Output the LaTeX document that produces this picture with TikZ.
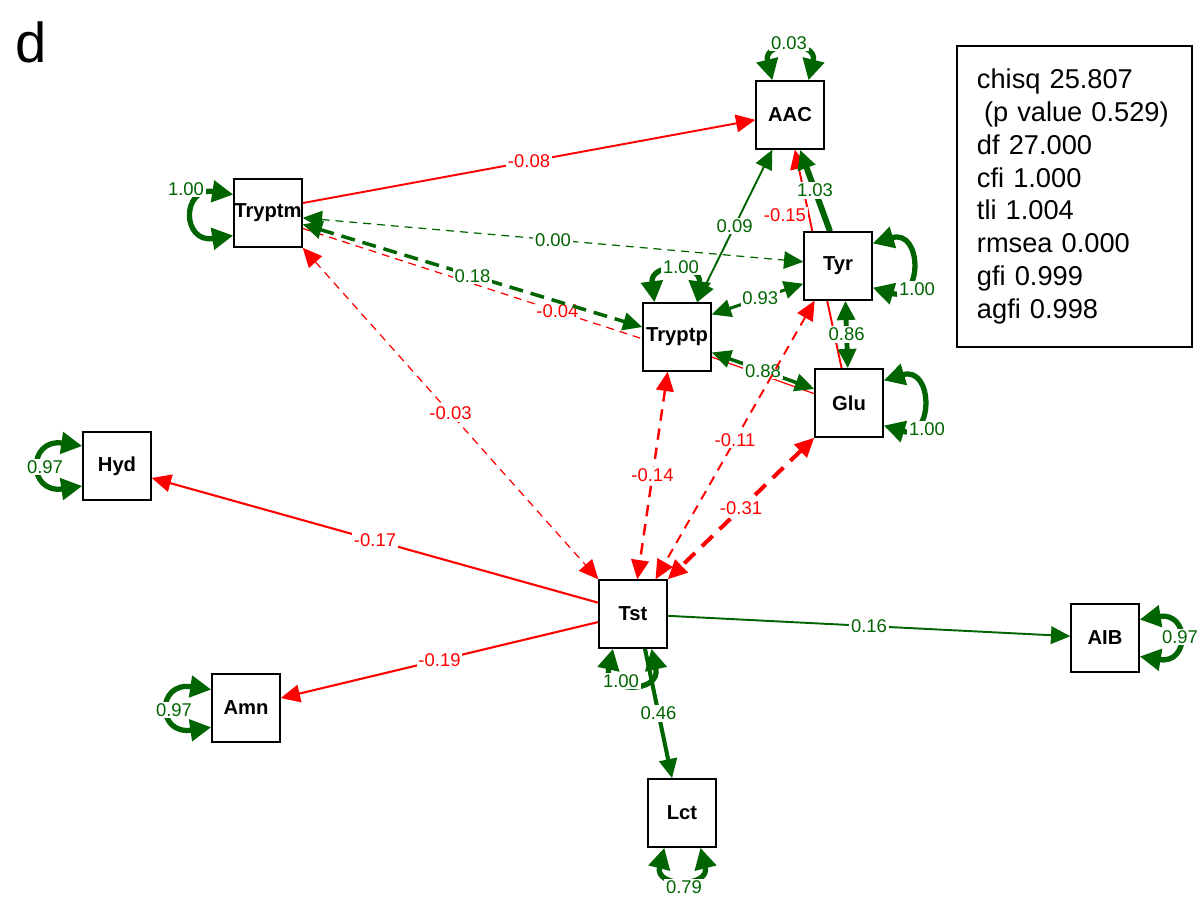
\documentclass[tikz,border=0pt]{standalone}
\usepackage{fontspec}
\setmainfont{Liberation Sans}
\usetikzlibrary{arrows.meta, positioning, calc, backgrounds}
\definecolor{semgreen}{RGB}{0,100,0}

\begin{document}
\begin{tikzpicture}[x=0.02cm, y=-0.02cm, >={Triangle[length=11pt, width=10pt]},
        var_box/.style={draw, line width=0.8pt, fill=white, minimum size=1.36cm, inner sep=0pt, font=\fontsize{11.5}{13}\selectfont\bfseries},
        edge_label/.style={fill=white, inner sep=1pt, font=\fontsize{10.5}{12}\selectfont},
        var_label/.style={edge_label, text=semgreen},
        resid/.style={{Triangle[length=12pt, width=12pt]}-{Triangle[length=12pt, width=12pt]}, semgreen, line width=3pt}]

        \useasboundingbox (0,0) rectangle (1202,907);

        % Panel letter
        \node[font=\fontsize{32}{36}\selectfont, anchor=base] (panel_label) at (31,62) {d};

        % Observed variables
        \node[var_box] (aac) at (790,115) {AAC};
        \node[var_box] (tryptm) at (268,213) {Tryptm};
        \node[var_box] (tyr) at (838,266) {Tyr};
        \node[var_box] (tryptp) at (677,337) {Tryptp};
        \node[var_box] (glu) at (849,403) {Glu};
        \node[var_box] (hyd) at (117,466) {Hyd};
        \node[var_box] (tst) at (633,614) {Tst};
        \node[var_box] (aib) at (1105,638) {AIB};
        \node[var_box] (amn) at (246,708) {Amn};
        \node[var_box] (lct) at (682,813) {Lct};

        % Fit measures
        \node[draw, line width=1.1pt, anchor=north west, minimum width=4.7cm, minimum height=6.02cm,
            text width=3.9cm, inner xsep=0.4cm, align=left, font=\fontsize{15.5}{18.7}\selectfont] (fit_box) at (956,45)
            {chisq 25.807\\\hspace*{4pt}(p value 0.529)\\df 27.000\\cfi 1.000\\tli 1.004\\rmsea 0.000\\gfi 0.999\\agfi 0.998};

        \begin{scope}[on background layer]
            % Regressions
            \draw[->, red, line width=1.1pt] (tryptm.16) -- node[edge_label] {-0.08} (aac.-172);
            \draw[->, red, line width=1.1pt] (glu.102) -- node[edge_label, pos=0.7, xshift=-0.48cm] {-0.15} (aac.-82);
            \draw[->, semgreen, line width=3.4pt] (tyr.103) -- node[edge_label] {1.03} (aac.-74);
            \draw[->, red, line width=1.2pt] (tst.162) -- node[edge_label] {-0.17} (hyd.-19);
            \draw[->, red, line width=1.2pt] (tst.-167) -- node[edge_label] {-0.19} (amn.16);
            \draw[->, semgreen, line width=1.1pt] (tst.-3) -- node[edge_label] {0.16} (aib.177);
            \draw[->, semgreen, line width=2.3pt] (tst.-71) -- node[edge_label] {0.46} (lct.106);

            % Covariances
            \draw[red, dash pattern=on 4.5pt off 3.4pt, line width=0.7pt] (tryptm.-24) -- node[edge_label, pos=0.75] {-0.04} (tryptp.-177);
            \draw[<->, semgreen, dash pattern=on 4.5pt off 3.4pt, line width=0.7pt] (tryptm.-8) -- node[edge_label] {0.00} (tyr.173);
            \draw[<->, semgreen, dash pattern=on 8pt off 4.5pt, line width=2pt] (tryptm.-18) -- node[edge_label] {0.18} (tryptp.164);
            \draw[<->, red, dash pattern=on 4.5pt off 3.4pt, line width=0.7pt] (tryptm.-45) -- node[edge_label] {-0.03} (tst.135);
            \draw[<->, semgreen, line width=1.1pt] (tryptp.60) -- node[edge_label] {0.09} (aac.-117);
            \draw[<->, semgreen, line width=1.7pt] (tryptp.33) -- node[edge_label, pos=0.53] {0.93} (tyr.-153);
            \draw[red, line width=0.7pt] (tryptp.-30) -- (glu.165);
            \draw[<->, semgreen, line width=2pt] (tryptp.-24) -- node[edge_label] {0.88} (glu.158);
            \draw[<->, semgreen, line width=2.8pt] (tyr.-78) -- node[edge_label] {0.86} (glu.92);
            \draw[<->, red, dash pattern=on 6.5pt off 4.5pt, line width=1.4pt] (tryptp.-105) -- node[edge_label] {-0.14} (tst.83);
            \draw[<->, red, dash pattern=on 5.5pt off 4pt, line width=1.1pt] (tyr.-124) -- node[edge_label] {-0.11} (tst.57);
            \draw[<->, red, dash pattern=on 8.5pt off 5.5pt, line width=2.3pt] (glu.-135) -- node[edge_label] {-0.31} (tst.45);

            % Residual variances
            \draw[resid] (aac.117) .. controls +(-10,-40) and +(10,-40) .. (aac.62);
            \node[var_label] (aac_var) at (789,43) {0.03};
            \draw[resid] (tryptm.152) .. controls +(-52,-8) and +(-52,8) .. (tryptm.-147);
            \node[var_label] (tryptm_var) at (186,189) {1.00};
            \draw[resid] (tyr.33) .. controls +(50,-15) and +(50,15) .. (tyr.-32);
            \node[var_label] (tyr_var) at (917,289) {1.00};
            \draw[resid] (tryptp.123) .. controls +(-5,-40) and +(5,-40) .. (tryptp.60);
            \node[var_label] (tryptp_var) at (681,267) {1.00};
            \draw[resid] (glu.33) .. controls +(50,-15) and +(50,15) .. (glu.-33);
            \node[var_label] (glu_var) at (927,429) {1.00};
            \draw[resid] (hyd.150) .. controls +(-55,-8) and +(-55,8) .. (hyd.-150);
            \node[var_label] (hyd_var) at (45,467) {0.97};
            \draw[resid] (tst.-120) .. controls +(-10,45) and +(10,45) .. (tst.-62);
            \node[var_label] (tst_var) at (621,681) {1.00};
            \draw[resid] (aib.28) .. controls +(50,-8) and +(50,8) .. (aib.-28);
            \node[var_label] (aib_var) at (1180,637) {0.97};
            \draw[resid] (amn.152) .. controls +(-55,-8) and +(-55,8) .. (amn.-151);
            \node[var_label] (amn_var) at (174,710) {0.97};
            \draw[resid] (lct.-117) .. controls +(-10,40) and +(10,40) .. (lct.-62);
            \node[var_label] (lct_var) at (684,887) {0.79};
        \end{scope}
    \end{tikzpicture}
\end{document}
